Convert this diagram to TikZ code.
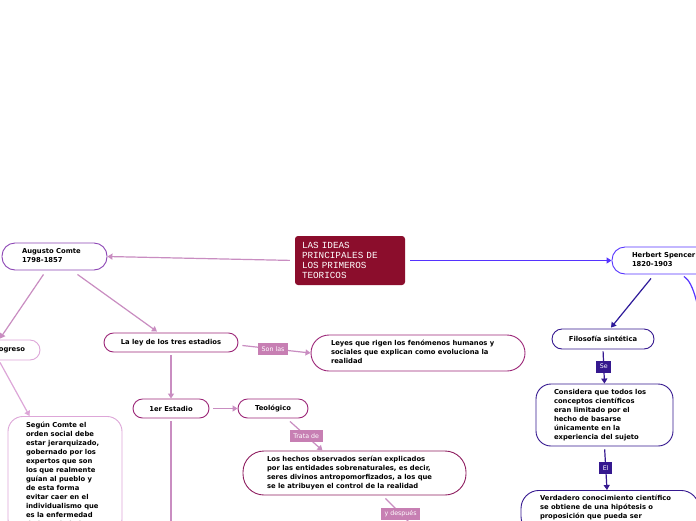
\documentclass[tikz,border=0pt]{standalone}
\usepackage{fontspec}
\setmainfont{DejaVu Sans}
\newfontfamily\monof{Liberation Mono}
\usetikzlibrary{arrows.meta,calc}
\definecolor{centfill}{HTML}{8B0D2C}
\definecolor{augc}{HTML}{8C45B5}
\definecolor{pinkln}{HTML}{C98DC1}
\definecolor{lightpk}{HTML}{DDA6D8}
\definecolor{leyc}{HTML}{9C2778}
\definecolor{hechc}{HTML}{8E1E60}
\definecolor{lblpk}{HTML}{C77FB3}
\definecolor{spenc}{HTML}{5533FF}
\definecolor{indig}{HTML}{35188F}
\definecolor{indln}{HTML}{2E1A9A}
\newcommand\tb[2]{\makebox[#1][l]{\begin{tabular}{@{}l@{}}#2\end{tabular}}}
\tikzset{
  txt/.style={font=\fontsize{6.8}{9}\selectfont\bfseries, text=black},
  box/.style={txt, draw, fill=white, line width=0.9pt, inner sep=0pt},
  pill/.style={box, rounded corners=#1},
  con/.style={line width=1.2pt, -{Triangle[length=5pt,width=6pt]}},
  plain/.style={line width=1.2pt},
  lbl/.style={font=\fontsize{6.3}{7}\selectfont, text=white, fill=#1, inner xsep=3.5pt, inner ysep=2.5pt, minimum height=12pt}
}
\begin{document}
\begin{tikzpicture}[x=1pt,y=-1pt]
\useasboundingbox (0,0) rectangle (696,520);
\clip (0,0) rectangle (696,520);
\fill[white] (0,0) rectangle (696,520);

% central
\node[fill=centfill, rounded corners=3pt, minimum width=110pt, minimum height=49pt,
      text width=96pt, inner xsep=7pt, align=left, text=white,
      font=\monof\fontsize{9.3}{10}\selectfont] (cent) at (350,260.5)
  {LAS IDEAS\\PRINCIPALES DE\\LOS PRIMEROS\\TEORICOS};

% left branch
\node[pill=13pt, draw=augc, minimum width=105pt, minimum height=27pt] (aug) at (54.5,256.5)
  {\tb{65pt}{Augusto Comte\\1798-1857}};
\node[pill=10pt, draw=lightpk, minimum width=80pt, minimum height=20pt] (prog) at (0,350)
  {\tb{19pt}{Progreso}};
\node[pill=15pt, draw=lightpk, minimum width=114pt, inner ysep=5pt, anchor=north] (segun) at (65,416)
  {\tb{78pt}{Según Comte el\\orden social debe\\estar jerarquizado,\\gobernado por los\\expertos que son\\los que realmente\\guían al pueblo y\\de esta forma\\evitar caer en el\\individualismo que\\es la enfermedad\\de la sociedad}};
\node[pill=9.5pt, draw=leyc, minimum width=134pt, minimum height=19pt] (ley) at (171,342.5)
  {La ley de los tres estadios};
\node[pill=18pt, draw=leyc, minimum width=214pt, minimum height=36pt] (leyes) at (418,353)
  {\tb{174pt}{Leyes que rigen los fenómenos humanos y\\sociales que explican como evoluciona la\\realidad}};
\node[pill=9.5pt, draw=leyc, minimum width=76pt, minimum height=19pt] (est) at (171,408.5)
  {1er Estadio};
\node[pill=9.5pt, draw=leyc, minimum width=70pt, minimum height=19pt] (teo) at (273,408.5)
  {Teológico};
\node[pill=21pt, draw=hechc, minimum width=223pt, minimum height=44pt] (hechos) at (354.5,473)
  {\tb{175pt}{Los hechos observados serían explicados\\por las entidades sobrenaturales, es decir,\\seres divinos antropomorfizados, a los que\\se le atribuyen el control de la realidad}};

% right branch
\node[pill=13pt, draw=spenc, minimum width=100pt, minimum height=27pt] (spen) at (662,260.5)
  {\tb{60pt}{Herbert Spencer\\1820-1903}};
\node[pill=10pt, draw=indig, minimum width=102pt, minimum height=20pt] (filo) at (603,339)
  {Filosofía sintética};
\node[pill=15pt, draw=indig, minimum width=137pt, minimum height=62pt] (cons) at (604.5,415)
  {\tb{101pt}{Considera que todos los\\conceptos científicos\\eran limitado por el\\hecho de basarse\\únicamente en la\\experiencia del sujeto}};
\node[pill=18pt, draw=indig, minimum width=178pt, inner ysep=4pt, anchor=north] (verd) at (610,490)
  {\tb{140pt}{Verdadero conocimiento científico\\se obtiene de una hipótesis o\\proposición que pueda ser\\comprobada}};

\coordinate (estend) at (171,530);
\coordinate (ydend) at (419,532);
\coordinate (spend) at (702,330);

% connectors
\draw[con, pinkln, shorten <=5pt] (cent.west) -- (aug.east);
\draw[con, spenc, shorten <=5pt] (cent.east) -- (spen.west);
\draw[con, pinkln] ($(aug.south)+(-11,4)$) -- ($(prog.north)+(0,-1)$);
\draw[con, pinkln] ($(aug.south)+(23,4)$) -- ($(ley.north)+(-14,-1)$);
\draw[con, lightpk] ($(prog.south)+(0,2)$) -- ($(segun.north west)+(22,0)$);
\draw[con, pinkln] ($(ley.east)+(4,3)$) -- node[lbl=lblpk, pos=0.45] {Son las} (leyes.west);
\draw[con, pinkln, shorten <=3pt] (ley.south) -- (est.north);
\draw[con, pinkln, shorten <=4pt] (est.east) -- (teo.west);
\draw[con, pinkln] ($(teo.south)+(17,3)$) -- node[lbl=lblpk] {Trata de} ($(hechos.north)+(-32,0)$);
\draw[plain, pinkln] ($(hechos.south)+(31,3)$) -- node[lbl=lblpk, pos=0.45] {y después} (ydend);
\draw[plain, pinkln, shorten <=3pt] (est.south) -- (estend);
\draw[con, indln] ($(spen.south)+(-11,4)$) -- ($(filo.north)+(8,-1)$);
\draw[plain, spenc] ($(spen.south)+(22,2)$) .. controls +(10,6) and +(-3,-20) .. (spend);
\draw[con, indig, shorten <=2pt] (filo.south) -- node[lbl=indig] {Se} (cons.north);
\draw[con, indig, shorten <=3pt] (cons.south) -- node[lbl=indig] {El} ($(verd.north)+(-3,0)$);
\end{tikzpicture}
\end{document}
